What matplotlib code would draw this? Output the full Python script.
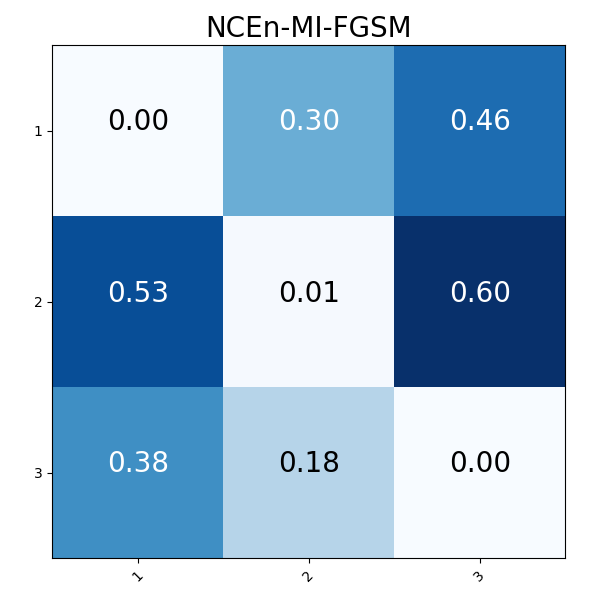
import matplotlib
matplotlib.use("Agg")
import matplotlib.pyplot as plt
import numpy as np

labels = ["1", "2", "3"]
values = np.array([
    [0.00, 0.30, 0.46],
    [0.53, 0.006, 0.60],
    [0.38, 0.18, 0.00],
])
title = "NCEn-MI-FGSM"

fig, ax = plt.subplots(figsize=(6, 6), dpi=100)
ax.imshow(values, interpolation="nearest", cmap=plt.cm.Blues)
ax.set_title(title, fontsize=20)
ticks = np.arange(len(labels))
ax.set_xticks(ticks)
ax.set_xticklabels(labels, rotation=45)
ax.set_yticks(ticks)
ax.set_yticklabels(labels)

thresh = values.max() / 2.0
for i in range(values.shape[0]):
    for j in range(values.shape[1]):
        ax.text(j, i, f"{values[i, j]:.2f}", ha="center",
                fontsize=20,
                color="white" if values[i, j] >= thresh else "black")

plt.subplots_adjust(left=0.087, right=0.942, top=0.925, bottom=0.07)
plt.savefig("out.png")
